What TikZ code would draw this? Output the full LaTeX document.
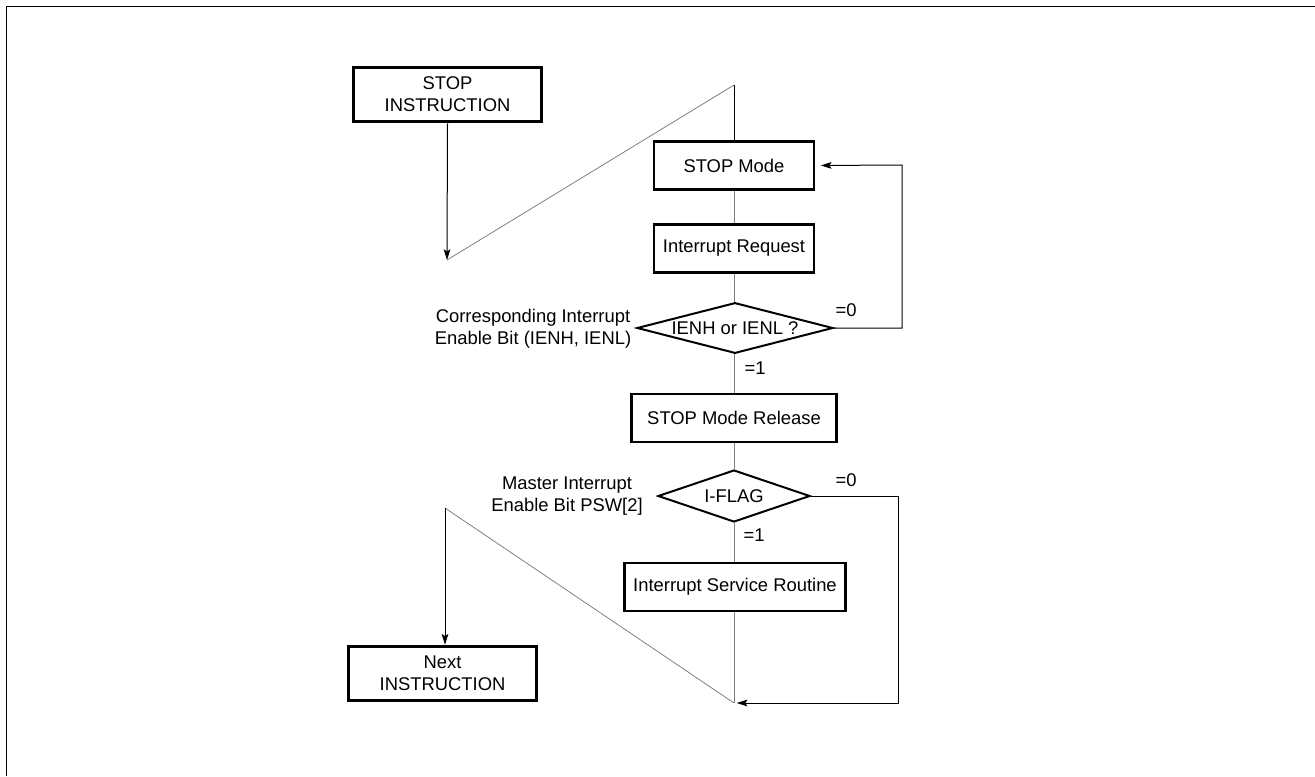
\documentclass[tikz,border=0pt]{standalone}
\usepackage{fontspec}
\setmainfont{Liberation Sans}
\usetikzlibrary{arrows.meta,shapes.geometric}
\definecolor{stpink}{HTML}{000000}
\definecolor{stpwire}{HTML}{808080}
\tikzset{
  % process steps, heavy outline
  stp box/.style={
    draw=stpink, line width=2.2pt, rectangle,
    inner sep=0pt, align=center,
  },
  % the two tests
  stp test/.style={
    draw=stpink, line width=1.5pt, diamond,
    inner sep=0pt, align=center,
  },
  % plain flow between steps, lighter than the boxes
  stp flow/.style={
    draw=stpwire, line width=0.6pt,
  },
  % arrowed flow and the =0 return loops
  stp arrow/.style={
    draw=stpink, line width=0.75pt,
    -{Stealth[length=8pt,width=5pt,inset=1.5pt]},
  },
  % branch values and side notes
  stp note/.style={
    text=stpink, inner sep=0pt, align=center,
  },
}

\begin{document}
\begin{tikzpicture}[x=0.75pt,y=-0.75pt,
  font=\fontsize{13.8}{16.3}\selectfont]

  \useasboundingbox (0,0) rectangle (1315,776);
  \draw[line width=1.2pt] (6.5,776) -- (6.5,6.5) -- (1315,6.5);

  % ---- the instruction stream ----------------------------------------------
  \node[stp box,minimum width=141pt,minimum height=41pt] (stopinstr)
    at (447.5,94.5) {STOP\\INSTRUCTION};
  \node[stp box,minimum width=141pt,minimum height=41pt] (nextinstr)
    at (442.5,673.5) {Next\\INSTRUCTION};
  \coordinate (sleep)  at (447,260);
  \coordinate (resume) at (445,508);

  % ---- the wake-up path ----------------------------------------------------
  \coordinate (wake) at (734,85);
  \node[stp box,minimum width=120pt,minimum height=36.5pt] (stopmode)
    at (734,165.5) {STOP Mode};
  \node[stp box,minimum width=120pt,minimum height=36.5pt] (intreq)
    at (734,248.5) {Interrupt Request};
  \node[stp test,aspect=3.8,minimum width=147pt,minimum height=38pt] (ienh)
    at (735,328) {IENH or IENL ?};
  \node[stp box,minimum width=154pt,minimum height=36pt] (release)
    at (734,418) {STOP Mode Release};
  \node[stp test,aspect=2.9,minimum width=114pt,minimum height=39pt] (iflag)
    at (734,496) {I-FLAG};
  \node[stp box,minimum width=166pt,minimum height=36pt] (isr)
    at (735,587) {Interrupt Service Routine};
  \coordinate (join) at (734,703);

  % ---- branch values and notes ---------------------------------------------
  \node[stp note] (zeroA) at (846,310) {=0};
  \node[stp note] (oneA)  at (755,368) {=1};
  \node[stp note] (zeroB) at (846,480) {=0};
  \node[stp note] (oneB)  at (754,535) {=1};
  \node[stp note] (ienhnote)  at (533,329)
    {Corresponding Interrupt\\Enable Bit (IENH, IENL)};
  \node[stp note] (iflagnote) at (567,496)
    {Master Interrupt\\Enable Bit PSW[2]};

  % ---- connectors ----------------------------------------------------------
  \draw[stp arrow] (stopinstr.south) -- (sleep);
  \draw[stp flow] (sleep) -- (wake);
  \draw[draw=stpink,line width=0.6pt] (wake) -- (stopmode.north);
  \draw[stp flow] (stopmode) -- (intreq);
  \draw[stp flow] (intreq) -- (ienh.north -| intreq);
  \draw[stp flow] (ienh.south -| release) -- (release.north);
  \draw[stp flow] (release) -- (iflag.north);
  \draw[stp flow] (iflag.south) -- (isr.north -| iflag.south);
  \draw[stp flow] (isr.south -| join) -- (join);
  \draw[stp flow] (join) -- (resume);
  \draw[stp arrow] (resume) -- (nextinstr.north -| resume);

  \coordinate (retA) at (902,165);
  \coordinate (retB) at (898,703);
  \draw[stp arrow,shorten >=4pt] (ienh.east) -| (retA) -- (stopmode.east);
  \draw[stp arrow,shorten >=2pt] (iflag.east) -| (retB) -- (join);

\end{tikzpicture}
\end{document}
